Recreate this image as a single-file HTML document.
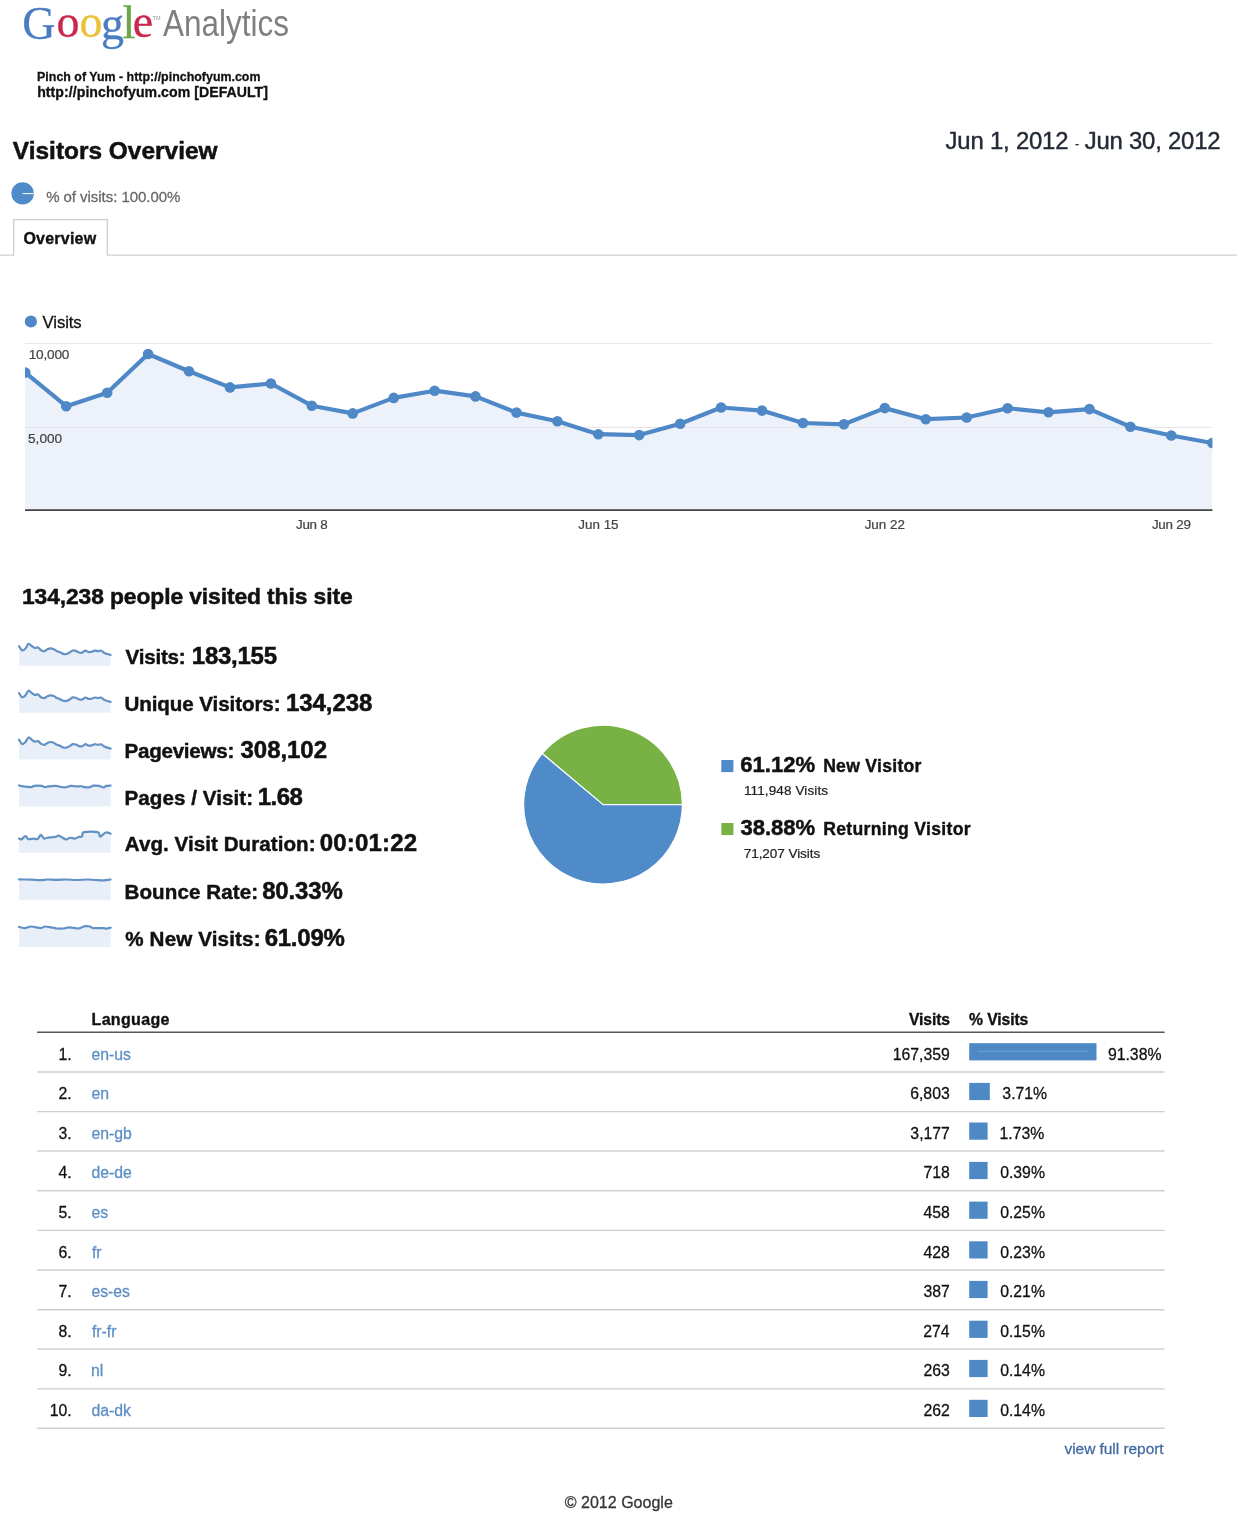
<!DOCTYPE html>
<html><head><meta charset="utf-8"><title>Google Analytics - Visitors Overview</title>
<style>
html,body{margin:0;padding:0;background:#fff;}
body{width:1239px;height:1515px;overflow:hidden;position:relative;font-family:"Liberation Sans",Arial,sans-serif;}
svg{position:absolute;left:0;top:0;display:block;will-change:transform;}
</style></head>
<body>
<svg width="1239" height="1515" viewBox="0 0 1239 1515">
<text y="37.4" font-family="Liberation Serif, serif" font-size="46"><tspan x="22.26" y="39.0" fill="#4a7cc2" stroke="#4a7cc2" stroke-width="0.3">G</tspan><tspan x="56.42" y="37.4" fill="#c9284a" stroke="#c9284a" stroke-width="0.3">o</tspan><tspan x="79.62" y="37.4" fill="#e9c23a" stroke="#e9c23a" stroke-width="0.3">o</tspan><tspan x="101.06" y="39.0" fill="#4a7cc2" stroke="#4a7cc2" stroke-width="0.3">g</tspan><tspan x="122.6" y="37.6" fill="#67a745" stroke="#67a745" stroke-width="0.3">l</tspan><tspan x="132.82" y="37.4" fill="#c9284a" stroke="#c9284a" stroke-width="0.3">e</tspan></text><text x="152.6" y="20" font-family="Liberation Sans, sans-serif" font-size="5.5" fill="#999">TM</text><text x="163" y="36.3" font-family="Liberation Sans, sans-serif" font-size="36" fill="#7f7f7f" textLength="126" lengthAdjust="spacingAndGlyphs">Analytics</text>
<circle cx="22.6" cy="193.4" r="11.2" fill="#4f8bc8"/><line x1="22.6" y1="193.6" x2="33.8" y2="193.6" stroke="#fff" stroke-width="1"/>
<path d="M0,255.2 H13.7 V219.7 H107.3 V255.2 H1237" fill="none" stroke="#cfcfcf" stroke-width="1.3"/>

<clipPath id="cc"><rect x="25.0" y="330" width="1187.4" height="180.10000000000002"/></clipPath>
<line x1="25.0" y1="343.4" x2="1212.4" y2="343.4" stroke="#e6e6e6" stroke-width="1"/>
<g clip-path="url(#cc)">
<path d="M25.0,510.1 L25.3,372.6 L66.2,406.2 L107.2,392.8 L148.1,354.0 L189.0,371.3 L230.0,387.4 L270.9,383.5 L311.8,405.7 L352.7,413.4 L393.7,397.9 L434.6,390.7 L475.5,396.4 L516.5,412.6 L557.4,421.2 L598.3,434.2 L639.2,435.1 L680.2,423.7 L721.1,407.5 L762.0,410.6 L803.0,423.0 L843.9,424.3 L884.8,408.1 L925.8,419.2 L966.7,417.5 L1007.6,408.2 L1048.5,412.3 L1089.5,409.1 L1130.4,426.8 L1171.3,435.5 L1212.3,443.0 L1212.4,510.1 Z" fill="#edf2fa"/>
<line x1="25.0" y1="427.4" x2="1212.4" y2="427.4" stroke="#e2e4e8" stroke-width="1"/>
<polyline points="25.3,372.6 66.2,406.2 107.2,392.8 148.1,354.0 189.0,371.3 230.0,387.4 270.9,383.5 311.8,405.7 352.7,413.4 393.7,397.9 434.6,390.7 475.5,396.4 516.5,412.6 557.4,421.2 598.3,434.2 639.2,435.1 680.2,423.7 721.1,407.5 762.0,410.6 803.0,423.0 843.9,424.3 884.8,408.1 925.8,419.2 966.7,417.5 1007.6,408.2 1048.5,412.3 1089.5,409.1 1130.4,426.8 1171.3,435.5 1212.3,443.0" fill="none" stroke="#4f88c6" stroke-width="4.2" stroke-linejoin="round"/>
<circle cx="25.3" cy="372.6" r="5.3" fill="#4f88c6"/><circle cx="66.2" cy="406.2" r="5.3" fill="#4f88c6"/><circle cx="107.2" cy="392.8" r="5.3" fill="#4f88c6"/><circle cx="148.1" cy="354.0" r="5.3" fill="#4f88c6"/><circle cx="189.0" cy="371.3" r="5.3" fill="#4f88c6"/><circle cx="230.0" cy="387.4" r="5.3" fill="#4f88c6"/><circle cx="270.9" cy="383.5" r="5.3" fill="#4f88c6"/><circle cx="311.8" cy="405.7" r="5.3" fill="#4f88c6"/><circle cx="352.7" cy="413.4" r="5.3" fill="#4f88c6"/><circle cx="393.7" cy="397.9" r="5.3" fill="#4f88c6"/><circle cx="434.6" cy="390.7" r="5.3" fill="#4f88c6"/><circle cx="475.5" cy="396.4" r="5.3" fill="#4f88c6"/><circle cx="516.5" cy="412.6" r="5.3" fill="#4f88c6"/><circle cx="557.4" cy="421.2" r="5.3" fill="#4f88c6"/><circle cx="598.3" cy="434.2" r="5.3" fill="#4f88c6"/><circle cx="639.2" cy="435.1" r="5.3" fill="#4f88c6"/><circle cx="680.2" cy="423.7" r="5.3" fill="#4f88c6"/><circle cx="721.1" cy="407.5" r="5.3" fill="#4f88c6"/><circle cx="762.0" cy="410.6" r="5.3" fill="#4f88c6"/><circle cx="803.0" cy="423.0" r="5.3" fill="#4f88c6"/><circle cx="843.9" cy="424.3" r="5.3" fill="#4f88c6"/><circle cx="884.8" cy="408.1" r="5.3" fill="#4f88c6"/><circle cx="925.8" cy="419.2" r="5.3" fill="#4f88c6"/><circle cx="966.7" cy="417.5" r="5.3" fill="#4f88c6"/><circle cx="1007.6" cy="408.2" r="5.3" fill="#4f88c6"/><circle cx="1048.5" cy="412.3" r="5.3" fill="#4f88c6"/><circle cx="1089.5" cy="409.1" r="5.3" fill="#4f88c6"/><circle cx="1130.4" cy="426.8" r="5.3" fill="#4f88c6"/><circle cx="1171.3" cy="435.5" r="5.3" fill="#4f88c6"/><circle cx="1212.3" cy="443.0" r="5.3" fill="#4f88c6"/>
</g>
<line x1="25.0" y1="510.1" x2="1212.4" y2="510.1" stroke="#444" stroke-width="1.6"/>
<circle cx="30.9" cy="321.5" r="6.1" fill="#4f88c6"/>

<path d="M19.00,646.14 C19.53,646.85 21.11,649.95 22.16,650.37 C23.21,650.79 24.26,649.78 25.32,648.68 C26.37,647.59 27.42,644.25 28.48,643.80 C29.53,643.35 30.58,645.28 31.63,645.98 C32.69,646.68 33.74,647.75 34.79,648.00 C35.85,648.26 36.90,647.13 37.95,647.51 C39.00,647.90 40.06,649.68 41.11,650.31 C42.16,650.93 43.22,651.44 44.27,651.28 C45.32,651.11 46.37,649.80 47.43,649.32 C48.48,648.85 49.53,648.45 50.59,648.42 C51.64,648.39 52.69,648.68 53.74,649.14 C54.80,649.60 55.85,650.65 56.90,651.17 C57.96,651.69 59.01,651.80 60.06,652.26 C61.11,652.71 62.17,653.60 63.22,653.89 C64.27,654.18 65.33,654.23 66.38,654.01 C67.43,653.79 68.49,653.15 69.54,652.57 C70.59,651.99 71.64,650.81 72.70,650.53 C73.75,650.26 74.80,650.60 75.86,650.92 C76.91,651.25 77.96,652.20 79.01,652.48 C80.07,652.77 81.12,652.96 82.17,652.65 C83.23,652.33 84.28,650.72 85.33,650.61 C86.38,650.50 87.44,651.81 88.49,652.00 C89.54,652.20 90.60,652.02 91.65,651.79 C92.70,651.56 93.75,650.73 94.81,650.62 C95.86,650.51 96.91,651.12 97.97,651.14 C99.02,651.16 100.07,650.43 101.12,650.73 C102.18,651.04 103.23,652.41 104.28,652.96 C105.34,653.52 106.39,653.72 107.44,654.06 C108.49,654.40 110.07,654.84 110.60,655.00 L110.60,665.80 L19.00,665.80 Z" fill="#e9eff8"/><path d="M19.00,646.14 C19.53,646.85 21.11,649.95 22.16,650.37 C23.21,650.79 24.26,649.78 25.32,648.68 C26.37,647.59 27.42,644.25 28.48,643.80 C29.53,643.35 30.58,645.28 31.63,645.98 C32.69,646.68 33.74,647.75 34.79,648.00 C35.85,648.26 36.90,647.13 37.95,647.51 C39.00,647.90 40.06,649.68 41.11,650.31 C42.16,650.93 43.22,651.44 44.27,651.28 C45.32,651.11 46.37,649.80 47.43,649.32 C48.48,648.85 49.53,648.45 50.59,648.42 C51.64,648.39 52.69,648.68 53.74,649.14 C54.80,649.60 55.85,650.65 56.90,651.17 C57.96,651.69 59.01,651.80 60.06,652.26 C61.11,652.71 62.17,653.60 63.22,653.89 C64.27,654.18 65.33,654.23 66.38,654.01 C67.43,653.79 68.49,653.15 69.54,652.57 C70.59,651.99 71.64,650.81 72.70,650.53 C73.75,650.26 74.80,650.60 75.86,650.92 C76.91,651.25 77.96,652.20 79.01,652.48 C80.07,652.77 81.12,652.96 82.17,652.65 C83.23,652.33 84.28,650.72 85.33,650.61 C86.38,650.50 87.44,651.81 88.49,652.00 C89.54,652.20 90.60,652.02 91.65,651.79 C92.70,651.56 93.75,650.73 94.81,650.62 C95.86,650.51 96.91,651.12 97.97,651.14 C99.02,651.16 100.07,650.43 101.12,650.73 C102.18,651.04 103.23,652.41 104.28,652.96 C105.34,653.52 106.39,653.72 107.44,654.06 C108.49,654.40 110.07,654.84 110.60,655.00" fill="none" stroke="#6291c4" stroke-width="2.2" stroke-linejoin="round" stroke-linecap="round"/><path d="M19.00,693.04 C19.53,693.75 21.11,696.85 22.16,697.27 C23.21,697.69 24.26,696.68 25.32,695.58 C26.37,694.49 27.42,691.15 28.48,690.70 C29.53,690.25 30.58,692.18 31.63,692.88 C32.69,693.58 33.74,694.65 34.79,694.90 C35.85,695.16 36.90,694.03 37.95,694.41 C39.00,694.80 40.06,696.58 41.11,697.21 C42.16,697.83 43.22,698.34 44.27,698.18 C45.32,698.01 46.37,696.70 47.43,696.22 C48.48,695.75 49.53,695.35 50.59,695.32 C51.64,695.29 52.69,695.58 53.74,696.04 C54.80,696.50 55.85,697.55 56.90,698.07 C57.96,698.59 59.01,698.70 60.06,699.16 C61.11,699.61 62.17,700.50 63.22,700.79 C64.27,701.08 65.33,701.13 66.38,700.91 C67.43,700.69 68.49,700.05 69.54,699.47 C70.59,698.89 71.64,697.71 72.70,697.43 C73.75,697.16 74.80,697.50 75.86,697.82 C76.91,698.15 77.96,699.10 79.01,699.38 C80.07,699.67 81.12,699.86 82.17,699.55 C83.23,699.23 84.28,697.62 85.33,697.51 C86.38,697.40 87.44,698.71 88.49,698.90 C89.54,699.10 90.60,698.92 91.65,698.69 C92.70,698.46 93.75,697.63 94.81,697.52 C95.86,697.41 96.91,698.02 97.97,698.04 C99.02,698.06 100.07,697.33 101.12,697.63 C102.18,697.94 103.23,699.31 104.28,699.86 C105.34,700.42 106.39,700.62 107.44,700.96 C108.49,701.30 110.07,701.74 110.60,701.90 L110.60,712.70 L19.00,712.70 Z" fill="#e9eff8"/><path d="M19.00,693.04 C19.53,693.75 21.11,696.85 22.16,697.27 C23.21,697.69 24.26,696.68 25.32,695.58 C26.37,694.49 27.42,691.15 28.48,690.70 C29.53,690.25 30.58,692.18 31.63,692.88 C32.69,693.58 33.74,694.65 34.79,694.90 C35.85,695.16 36.90,694.03 37.95,694.41 C39.00,694.80 40.06,696.58 41.11,697.21 C42.16,697.83 43.22,698.34 44.27,698.18 C45.32,698.01 46.37,696.70 47.43,696.22 C48.48,695.75 49.53,695.35 50.59,695.32 C51.64,695.29 52.69,695.58 53.74,696.04 C54.80,696.50 55.85,697.55 56.90,698.07 C57.96,698.59 59.01,698.70 60.06,699.16 C61.11,699.61 62.17,700.50 63.22,700.79 C64.27,701.08 65.33,701.13 66.38,700.91 C67.43,700.69 68.49,700.05 69.54,699.47 C70.59,698.89 71.64,697.71 72.70,697.43 C73.75,697.16 74.80,697.50 75.86,697.82 C76.91,698.15 77.96,699.10 79.01,699.38 C80.07,699.67 81.12,699.86 82.17,699.55 C83.23,699.23 84.28,697.62 85.33,697.51 C86.38,697.40 87.44,698.71 88.49,698.90 C89.54,699.10 90.60,698.92 91.65,698.69 C92.70,698.46 93.75,697.63 94.81,697.52 C95.86,697.41 96.91,698.02 97.97,698.04 C99.02,698.06 100.07,697.33 101.12,697.63 C102.18,697.94 103.23,699.31 104.28,699.86 C105.34,700.42 106.39,700.62 107.44,700.96 C108.49,701.30 110.07,701.74 110.60,701.90" fill="none" stroke="#6291c4" stroke-width="2.2" stroke-linejoin="round" stroke-linecap="round"/><path d="M19.00,739.74 C19.53,740.45 21.11,743.55 22.16,743.97 C23.21,744.39 24.26,743.38 25.32,742.28 C26.37,741.19 27.42,737.85 28.48,737.40 C29.53,736.95 30.58,738.88 31.63,739.58 C32.69,740.28 33.74,741.35 34.79,741.60 C35.85,741.86 36.90,740.73 37.95,741.11 C39.00,741.50 40.06,743.28 41.11,743.91 C42.16,744.53 43.22,745.04 44.27,744.88 C45.32,744.71 46.37,743.40 47.43,742.92 C48.48,742.45 49.53,742.05 50.59,742.02 C51.64,741.99 52.69,742.28 53.74,742.74 C54.80,743.20 55.85,744.25 56.90,744.77 C57.96,745.29 59.01,745.40 60.06,745.86 C61.11,746.31 62.17,747.20 63.22,747.49 C64.27,747.78 65.33,747.83 66.38,747.61 C67.43,747.39 68.49,746.75 69.54,746.17 C70.59,745.59 71.64,744.41 72.70,744.13 C73.75,743.86 74.80,744.20 75.86,744.52 C76.91,744.85 77.96,745.80 79.01,746.08 C80.07,746.37 81.12,746.56 82.17,746.25 C83.23,745.93 84.28,744.32 85.33,744.21 C86.38,744.10 87.44,745.41 88.49,745.60 C89.54,745.80 90.60,745.62 91.65,745.39 C92.70,745.16 93.75,744.33 94.81,744.22 C95.86,744.11 96.91,744.72 97.97,744.74 C99.02,744.76 100.07,744.03 101.12,744.33 C102.18,744.64 103.23,746.01 104.28,746.56 C105.34,747.12 106.39,747.32 107.44,747.66 C108.49,748.00 110.07,748.44 110.60,748.60 L110.60,759.40 L19.00,759.40 Z" fill="#e9eff8"/><path d="M19.00,739.74 C19.53,740.45 21.11,743.55 22.16,743.97 C23.21,744.39 24.26,743.38 25.32,742.28 C26.37,741.19 27.42,737.85 28.48,737.40 C29.53,736.95 30.58,738.88 31.63,739.58 C32.69,740.28 33.74,741.35 34.79,741.60 C35.85,741.86 36.90,740.73 37.95,741.11 C39.00,741.50 40.06,743.28 41.11,743.91 C42.16,744.53 43.22,745.04 44.27,744.88 C45.32,744.71 46.37,743.40 47.43,742.92 C48.48,742.45 49.53,742.05 50.59,742.02 C51.64,741.99 52.69,742.28 53.74,742.74 C54.80,743.20 55.85,744.25 56.90,744.77 C57.96,745.29 59.01,745.40 60.06,745.86 C61.11,746.31 62.17,747.20 63.22,747.49 C64.27,747.78 65.33,747.83 66.38,747.61 C67.43,747.39 68.49,746.75 69.54,746.17 C70.59,745.59 71.64,744.41 72.70,744.13 C73.75,743.86 74.80,744.20 75.86,744.52 C76.91,744.85 77.96,745.80 79.01,746.08 C80.07,746.37 81.12,746.56 82.17,746.25 C83.23,745.93 84.28,744.32 85.33,744.21 C86.38,744.10 87.44,745.41 88.49,745.60 C89.54,745.80 90.60,745.62 91.65,745.39 C92.70,745.16 93.75,744.33 94.81,744.22 C95.86,744.11 96.91,744.72 97.97,744.74 C99.02,744.76 100.07,744.03 101.12,744.33 C102.18,744.64 103.23,746.01 104.28,746.56 C105.34,747.12 106.39,747.32 107.44,747.66 C108.49,748.00 110.07,748.44 110.60,748.60" fill="none" stroke="#6291c4" stroke-width="2.2" stroke-linejoin="round" stroke-linecap="round"/><path d="M19.04,785.49 C19.98,785.69 22.67,786.43 24.69,786.70 C26.70,786.97 29.53,787.24 31.14,787.11 C32.76,786.97 32.62,786.10 34.37,785.90 C36.12,785.69 39.89,785.69 41.63,785.90 C43.38,786.10 43.65,787.04 44.86,787.11 C46.07,787.17 47.02,786.50 48.90,786.30 C50.78,786.10 54.41,785.83 56.16,785.90 C57.91,785.96 57.78,786.47 59.39,786.70 C61.00,786.93 63.96,787.40 65.85,787.27 C67.73,787.13 68.94,786.06 70.69,785.90 C72.44,785.73 74.46,786.23 76.34,786.30 C78.22,786.37 80.64,786.16 81.99,786.30 C83.33,786.43 83.07,786.97 84.41,787.11 C85.76,787.24 88.58,787.35 90.06,787.11 C91.54,786.86 91.81,785.86 93.29,785.65 C94.77,785.45 97.19,785.59 98.94,785.90 C100.69,786.21 102.57,787.51 103.78,787.51 C104.99,787.51 105.06,786.23 106.20,785.90 C107.35,785.56 109.90,785.56 110.64,785.49 L110.64,806.50 L19.04,806.50 Z" fill="#e9eff8"/><path d="M19.04,785.49 C19.98,785.69 22.67,786.43 24.69,786.70 C26.70,786.97 29.53,787.24 31.14,787.11 C32.76,786.97 32.62,786.10 34.37,785.90 C36.12,785.69 39.89,785.69 41.63,785.90 C43.38,786.10 43.65,787.04 44.86,787.11 C46.07,787.17 47.02,786.50 48.90,786.30 C50.78,786.10 54.41,785.83 56.16,785.90 C57.91,785.96 57.78,786.47 59.39,786.70 C61.00,786.93 63.96,787.40 65.85,787.27 C67.73,787.13 68.94,786.06 70.69,785.90 C72.44,785.73 74.46,786.23 76.34,786.30 C78.22,786.37 80.64,786.16 81.99,786.30 C83.33,786.43 83.07,786.97 84.41,787.11 C85.76,787.24 88.58,787.35 90.06,787.11 C91.54,786.86 91.81,785.86 93.29,785.65 C94.77,785.45 97.19,785.59 98.94,785.90 C100.69,786.21 102.57,787.51 103.78,787.51 C104.99,787.51 105.06,786.23 106.20,785.90 C107.35,785.56 109.90,785.56 110.64,785.49" fill="none" stroke="#6291c4" stroke-width="2.2" stroke-linejoin="round" stroke-linecap="round"/><path d="M19.04,838.55 C19.44,838.68 20.38,839.76 21.46,839.35 C22.53,838.95 24.35,836.15 25.49,836.12 C26.64,836.10 26.97,838.79 28.32,839.19 C29.66,839.59 32.02,838.59 33.56,838.55 C35.11,838.51 36.39,839.55 37.60,838.95 C38.81,838.34 39.75,834.98 40.83,834.91 C41.90,834.85 42.98,838.07 44.06,838.55 C45.13,839.02 45.40,838.01 47.28,837.74 C49.17,837.47 53.40,837.27 55.36,836.93 C57.31,836.60 57.24,835.32 58.99,835.72 C60.74,836.12 64.03,839.02 65.85,839.35 C67.66,839.69 68.40,837.87 69.88,837.74 C71.36,837.60 73.25,838.68 74.73,838.55 C76.21,838.41 77.55,837.27 78.76,836.93 C79.97,836.60 81.12,837.33 81.99,836.53 C82.86,835.72 81.38,832.83 84.01,832.09 C86.63,831.35 95.04,831.35 97.73,832.09 C100.42,832.83 98.80,836.46 100.15,836.53 C101.49,836.60 104.05,832.96 105.80,832.49 C107.55,832.02 109.83,833.50 110.64,833.70 L110.64,852.70 L19.04,852.70 Z" fill="#e9eff8"/><path d="M19.04,838.55 C19.44,838.68 20.38,839.76 21.46,839.35 C22.53,838.95 24.35,836.15 25.49,836.12 C26.64,836.10 26.97,838.79 28.32,839.19 C29.66,839.59 32.02,838.59 33.56,838.55 C35.11,838.51 36.39,839.55 37.60,838.95 C38.81,838.34 39.75,834.98 40.83,834.91 C41.90,834.85 42.98,838.07 44.06,838.55 C45.13,839.02 45.40,838.01 47.28,837.74 C49.17,837.47 53.40,837.27 55.36,836.93 C57.31,836.60 57.24,835.32 58.99,835.72 C60.74,836.12 64.03,839.02 65.85,839.35 C67.66,839.69 68.40,837.87 69.88,837.74 C71.36,837.60 73.25,838.68 74.73,838.55 C76.21,838.41 77.55,837.27 78.76,836.93 C79.97,836.60 81.12,837.33 81.99,836.53 C82.86,835.72 81.38,832.83 84.01,832.09 C86.63,831.35 95.04,831.35 97.73,832.09 C100.42,832.83 98.80,836.46 100.15,836.53 C101.49,836.60 104.05,832.96 105.80,832.49 C107.55,832.02 109.83,833.50 110.64,833.70" fill="none" stroke="#6291c4" stroke-width="2.2" stroke-linejoin="round" stroke-linecap="round"/><path d="M19.04,879.33 C21.05,879.38 27.51,879.52 31.14,879.65 C34.77,879.79 38.14,880.16 40.83,880.14 C43.52,880.11 44.59,879.55 47.28,879.49 C49.97,879.44 53.74,879.82 56.97,879.82 C60.20,879.82 63.43,879.47 66.65,879.49 C69.88,879.52 72.84,879.98 76.34,879.98 C79.84,879.98 84.41,879.49 87.64,879.49 C90.87,879.49 93.02,879.84 95.71,879.98 C98.40,880.11 101.29,880.38 103.78,880.30 C106.27,880.22 109.50,879.63 110.64,879.49 L110.64,900.20 L19.04,900.20 Z" fill="#e9eff8"/><path d="M19.04,879.33 C21.05,879.38 27.51,879.52 31.14,879.65 C34.77,879.79 38.14,880.16 40.83,880.14 C43.52,880.11 44.59,879.55 47.28,879.49 C49.97,879.44 53.74,879.82 56.97,879.82 C60.20,879.82 63.43,879.47 66.65,879.49 C69.88,879.52 72.84,879.98 76.34,879.98 C79.84,879.98 84.41,879.49 87.64,879.49 C90.87,879.49 93.02,879.84 95.71,879.98 C98.40,880.11 101.29,880.38 103.78,880.30 C106.27,880.22 109.50,879.63 110.64,879.49" fill="none" stroke="#6291c4" stroke-width="2.2" stroke-linejoin="round" stroke-linecap="round"/><path d="M19.04,926.90 C20.11,927.10 23.47,928.17 25.49,928.11 C27.51,928.04 28.59,926.49 31.14,926.49 C33.70,926.49 38.54,928.11 40.83,928.11 C43.11,928.11 42.85,926.56 44.86,926.49 C46.88,926.43 50.92,927.37 52.93,927.70 C54.95,928.04 55.22,928.38 56.97,928.51 C58.72,928.64 61.41,928.71 63.43,928.51 C65.44,928.31 66.65,927.30 69.08,927.30 C71.50,927.30 75.80,928.51 77.95,928.51 C80.11,928.51 80.78,927.70 81.99,927.30 C83.20,926.90 83.87,926.22 85.22,926.09 C86.56,925.95 88.72,926.16 90.06,926.49 C91.41,926.83 91.00,927.84 93.29,928.11 C95.58,928.38 101.63,928.00 103.78,928.11 C105.93,928.21 105.06,928.82 106.20,928.75 C107.35,928.68 109.90,927.88 110.64,927.70 L110.64,947.00 L19.04,947.00 Z" fill="#e9eff8"/><path d="M19.04,926.90 C20.11,927.10 23.47,928.17 25.49,928.11 C27.51,928.04 28.59,926.49 31.14,926.49 C33.70,926.49 38.54,928.11 40.83,928.11 C43.11,928.11 42.85,926.56 44.86,926.49 C46.88,926.43 50.92,927.37 52.93,927.70 C54.95,928.04 55.22,928.38 56.97,928.51 C58.72,928.64 61.41,928.71 63.43,928.51 C65.44,928.31 66.65,927.30 69.08,927.30 C71.50,927.30 75.80,928.51 77.95,928.51 C80.11,928.51 80.78,927.70 81.99,927.30 C83.20,926.90 83.87,926.22 85.22,926.09 C86.56,925.95 88.72,926.16 90.06,926.49 C91.41,926.83 91.00,927.84 93.29,928.11 C95.58,928.38 101.63,928.00 103.78,928.11 C105.93,928.21 105.06,928.82 106.20,928.75 C107.35,928.68 109.90,927.88 110.64,927.70" fill="none" stroke="#6291c4" stroke-width="2.2" stroke-linejoin="round" stroke-linecap="round"/>

<path d="M603.0,804.6 L682.4,804.6 A79.4,79.4 0 0 0 542.18,753.56 Z" fill="#78b244" stroke="#fff" stroke-width="1.2" stroke-linejoin="round"/>
<path d="M603.0,804.6 L542.18,753.56 A79.4,79.4 0 1 0 682.4,804.6 Z" fill="#4f8bc8" stroke="#fff" stroke-width="1.2" stroke-linejoin="round"/>
<rect x="721.3" y="760" width="12.1" height="12.1" fill="#4f8bc8"/>
<rect x="721.3" y="823" width="12.1" height="12.1" fill="#78b244"/>

<line x1="37.1" y1="1032.3" x2="1164.6" y2="1032.3" stroke="#555" stroke-width="1.4"/><line x1="37.1" y1="1072.0" x2="1164.6" y2="1072.0" stroke="#cfcfcf" stroke-width="1.4"/><line x1="37.1" y1="1111.6" x2="1164.6" y2="1111.6" stroke="#cfcfcf" stroke-width="1.4"/><line x1="37.1" y1="1151.0" x2="1164.6" y2="1151.0" stroke="#cfcfcf" stroke-width="1.4"/><line x1="37.1" y1="1190.7" x2="1164.6" y2="1190.7" stroke="#cfcfcf" stroke-width="1.4"/><line x1="37.1" y1="1230.4" x2="1164.6" y2="1230.4" stroke="#cfcfcf" stroke-width="1.4"/><line x1="37.1" y1="1270.0" x2="1164.6" y2="1270.0" stroke="#cfcfcf" stroke-width="1.4"/><line x1="37.1" y1="1309.8" x2="1164.6" y2="1309.8" stroke="#cfcfcf" stroke-width="1.4"/><line x1="37.1" y1="1349.0" x2="1164.6" y2="1349.0" stroke="#cfcfcf" stroke-width="1.4"/><line x1="37.1" y1="1388.9" x2="1164.6" y2="1388.9" stroke="#cfcfcf" stroke-width="1.4"/><line x1="37.1" y1="1428.3" x2="1164.6" y2="1428.3" stroke="#cfcfcf" stroke-width="1.4"/><rect x="969.2" y="1043.2" width="127.3" height="17.2" fill="#4e89c6"/><rect x="969.2" y="1082.9" width="20.6" height="17.2" fill="#4e89c6"/><rect x="969.2" y="1122.5" width="18.4" height="17.2" fill="#4e89c6"/><rect x="969.2" y="1161.9" width="18.4" height="17.2" fill="#4e89c6"/><rect x="969.2" y="1201.6" width="18.4" height="17.2" fill="#4e89c6"/><rect x="969.2" y="1241.3" width="18.4" height="17.2" fill="#4e89c6"/><rect x="969.2" y="1280.9" width="18.4" height="17.2" fill="#4e89c6"/><rect x="969.2" y="1320.7" width="18.4" height="17.2" fill="#4e89c6"/><rect x="969.2" y="1359.9" width="18.4" height="17.2" fill="#4e89c6"/><rect x="969.2" y="1399.8" width="18.4" height="17.2" fill="#4e89c6"/><line x1="977.9" y1="1051.3" x2="1088.1" y2="1051.3" stroke="#7ea8d8" stroke-width="0.7"/>
<text x="37.09" y="80.70" font-family="Liberation Sans, sans-serif" font-size="12.4" font-weight="bold" letter-spacing="0.017" fill="#111" stroke="#111" stroke-width="0.273">Pinch of Yum - http://pinchofyum.com</text>
<text x="37.21" y="97.40" font-family="Liberation Sans, sans-serif" font-size="14.1" font-weight="bold" letter-spacing="0.055" fill="#111" stroke="#111" stroke-width="0.31">http://pinchofyum.com [DEFAULT]</text>
<text x="12.87" y="158.60" font-family="Liberation Sans, sans-serif" font-size="24.4" font-weight="bold" letter-spacing="0.023" fill="#111" stroke="#111" stroke-width="0.537">Visitors Overview</text>
<text x="945.56" y="148.90" font-family="Liberation Sans, sans-serif" font-size="23.9" letter-spacing="-0.198" fill="#232a36" stroke="#232a36" stroke-width="0.406">Jun 1, 2012</text>
<text x="1074.91" y="148.00" font-family="Liberation Sans, sans-serif" font-size="12.5" fill="#232a36" stroke="#232a36" stroke-width="0.213">-</text>
<text x="1084.66" y="148.90" font-family="Liberation Sans, sans-serif" font-size="23.9" letter-spacing="-0.206" fill="#232a36" stroke="#232a36" stroke-width="0.406">Jun 30, 2012</text>
<text x="46.18" y="201.60" font-family="Liberation Sans, sans-serif" font-size="15.0" letter-spacing="-0.049" fill="#666" stroke="#666" stroke-width="0.255">% of visits: 100.00%</text>
<text x="23.44" y="244.10" font-family="Liberation Sans, sans-serif" font-size="16.0" font-weight="bold" letter-spacing="0.228" fill="#111" stroke="#111" stroke-width="0.352">Overview</text>
<text x="42.54" y="328.00" font-family="Liberation Sans, sans-serif" font-size="16.7" letter-spacing="-0.076" fill="#111" stroke="#111" stroke-width="0.284">Visits</text>
<text x="28.66" y="358.70" font-family="Liberation Sans, sans-serif" font-size="13.6" letter-spacing="-0.177" fill="#444" stroke="#444" stroke-width="0.231">10,000</text>
<text x="28.07" y="443.20" font-family="Liberation Sans, sans-serif" font-size="13.6" letter-spacing="-0.007" fill="#444" stroke="#444" stroke-width="0.231">5,000</text>
<text x="578.36" y="528.70" font-family="Liberation Sans, sans-serif" font-size="13.4" fill="#444" stroke="#444" stroke-width="0.228">Jun 15</text>
<text x="864.63" y="528.70" font-family="Liberation Sans, sans-serif" font-size="13.4" fill="#444" stroke="#444" stroke-width="0.228">Jun 22</text>
<text x="295.98" y="528.70" font-family="Liberation Sans, sans-serif" font-size="13.4" letter-spacing="-0.272" fill="#444" stroke="#444" stroke-width="0.228">Jun 8</text>
<text x="1151.88" y="528.70" font-family="Liberation Sans, sans-serif" font-size="13.4" letter-spacing="-0.242" fill="#444" stroke="#444" stroke-width="0.228">Jun 29</text>
<text x="21.98" y="604.40" font-family="Liberation Sans, sans-serif" font-size="22.8" font-weight="bold" letter-spacing="-0.085" fill="#111" stroke="#111" stroke-width="0.502">134,238 people visited this site</text>
<text x="125.53" y="664.40" font-family="Liberation Sans, sans-serif" font-size="20.6" font-weight="bold" letter-spacing="-0.214" fill="#111" stroke="#111" stroke-width="0.453">Visits:</text>
<text x="191.82" y="664.40" font-family="Liberation Sans, sans-serif" font-size="24.0" font-weight="bold" letter-spacing="-0.252" fill="#111" stroke="#111" stroke-width="0.528">183,155</text>
<text x="124.49" y="711.30" font-family="Liberation Sans, sans-serif" font-size="20.6" font-weight="bold" letter-spacing="-0.099" fill="#111" stroke="#111" stroke-width="0.453">Unique Visitors:</text>
<text x="285.92" y="711.30" font-family="Liberation Sans, sans-serif" font-size="24.0" font-weight="bold" letter-spacing="-0.052" fill="#111" stroke="#111" stroke-width="0.528">134,238</text>
<text x="124.49" y="758.00" font-family="Liberation Sans, sans-serif" font-size="20.6" font-weight="bold" letter-spacing="-0.268" fill="#111" stroke="#111" stroke-width="0.453">Pageviews:</text>
<text x="240.58" y="758.00" font-family="Liberation Sans, sans-serif" font-size="24.0" font-weight="bold" letter-spacing="-0.056" fill="#111" stroke="#111" stroke-width="0.528">308,102</text>
<text x="124.49" y="805.10" font-family="Liberation Sans, sans-serif" font-size="20.6" font-weight="bold" letter-spacing="0.057" fill="#111" stroke="#111" stroke-width="0.453">Pages / Visit:</text>
<text x="257.72" y="805.10" font-family="Liberation Sans, sans-serif" font-size="24.0" font-weight="bold" letter-spacing="-0.490" fill="#111" stroke="#111" stroke-width="0.528">1.68</text>
<text x="124.81" y="851.30" font-family="Liberation Sans, sans-serif" font-size="20.6" font-weight="bold" letter-spacing="0.041" fill="#111" stroke="#111" stroke-width="0.453">Avg. Visit Duration:</text>
<text x="319.74" y="851.30" font-family="Liberation Sans, sans-serif" font-size="24.0" font-weight="bold" letter-spacing="0.184" fill="#111" stroke="#111" stroke-width="0.528">00:01:22</text>
<text x="124.49" y="898.80" font-family="Liberation Sans, sans-serif" font-size="20.6" font-weight="bold" letter-spacing="0.075" fill="#111" stroke="#111" stroke-width="0.453">Bounce Rate:</text>
<text x="262.14" y="898.80" font-family="Liberation Sans, sans-serif" font-size="24.0" font-weight="bold" letter-spacing="-0.129" fill="#111" stroke="#111" stroke-width="0.528">80.33%</text>
<text x="125.31" y="945.60" font-family="Liberation Sans, sans-serif" font-size="20.6" font-weight="bold" letter-spacing="0.142" fill="#111" stroke="#111" stroke-width="0.453">% New Visits:</text>
<text x="264.64" y="945.60" font-family="Liberation Sans, sans-serif" font-size="24.0" font-weight="bold" letter-spacing="-0.229" fill="#111" stroke="#111" stroke-width="0.528">61.09%</text>
<text x="740.28" y="772.40" font-family="Liberation Sans, sans-serif" font-size="22.1" font-weight="bold" letter-spacing="-0.011" fill="#111" stroke="#111" stroke-width="0.486">61.12%</text>
<text x="823.14" y="772.40" font-family="Liberation Sans, sans-serif" font-size="17.6" font-weight="bold" letter-spacing="0.280" fill="#111" stroke="#111" stroke-width="0.387">New Visitor</text>
<text x="743.97" y="794.60" font-family="Liberation Sans, sans-serif" font-size="13.5" letter-spacing="0.120" fill="#222" stroke="#222" stroke-width="0.23">111,948 Visits</text>
<text x="740.50" y="835.30" font-family="Liberation Sans, sans-serif" font-size="22.1" font-weight="bold" letter-spacing="-0.055" fill="#111" stroke="#111" stroke-width="0.486">38.88%</text>
<text x="823.14" y="835.30" font-family="Liberation Sans, sans-serif" font-size="17.6" font-weight="bold" letter-spacing="0.318" fill="#111" stroke="#111" stroke-width="0.387">Returning Visitor</text>
<text x="743.74" y="857.60" font-family="Liberation Sans, sans-serif" font-size="13.5" letter-spacing="-0.050" fill="#222" stroke="#222" stroke-width="0.23">71,207 Visits</text>
<text x="91.52" y="1024.60" font-family="Liberation Sans, sans-serif" font-size="16.0" font-weight="bold" letter-spacing="0.338" fill="#111" stroke="#111" stroke-width="0.352">Language</text>
<text x="908.97" y="1024.60" font-family="Liberation Sans, sans-serif" font-size="15.7" font-weight="bold" letter-spacing="-0.096" fill="#111" stroke="#111" stroke-width="0.345">Visits</text>
<text x="969.06" y="1024.60" font-family="Liberation Sans, sans-serif" font-size="15.7" font-weight="bold" letter-spacing="-0.084" fill="#111" stroke="#111" stroke-width="0.345">% Visits</text>
<text x="58.48" y="1059.60" font-family="Liberation Sans, sans-serif" font-size="15.8" fill="#111" stroke="#111" stroke-width="0.269">1.</text>
<text x="91.40" y="1059.60" font-family="Liberation Sans, sans-serif" font-size="15.8" fill="#5b8ec4" stroke="#5b8ec4" stroke-width="0.269">en-us</text>
<text x="892.78" y="1059.60" font-family="Liberation Sans, sans-serif" font-size="15.8" fill="#111" stroke="#111" stroke-width="0.269">167,359</text>
<text x="58.48" y="1099.30" font-family="Liberation Sans, sans-serif" font-size="15.8" fill="#111" stroke="#111" stroke-width="0.269">2.</text>
<text x="91.40" y="1099.30" font-family="Liberation Sans, sans-serif" font-size="15.8" fill="#5b8ec4" stroke="#5b8ec4" stroke-width="0.269">en</text>
<text x="910.20" y="1099.30" font-family="Liberation Sans, sans-serif" font-size="15.8" fill="#111" stroke="#111" stroke-width="0.269">6,803</text>
<text x="58.48" y="1138.90" font-family="Liberation Sans, sans-serif" font-size="15.8" fill="#111" stroke="#111" stroke-width="0.269">3.</text>
<text x="91.40" y="1138.90" font-family="Liberation Sans, sans-serif" font-size="15.8" fill="#5b8ec4" stroke="#5b8ec4" stroke-width="0.269">en-gb</text>
<text x="910.36" y="1138.90" font-family="Liberation Sans, sans-serif" font-size="15.8" fill="#111" stroke="#111" stroke-width="0.269">3,177</text>
<text x="58.48" y="1178.30" font-family="Liberation Sans, sans-serif" font-size="15.8" fill="#111" stroke="#111" stroke-width="0.269">4.</text>
<text x="91.40" y="1178.30" font-family="Liberation Sans, sans-serif" font-size="15.8" fill="#5b8ec4" stroke="#5b8ec4" stroke-width="0.269">de-de</text>
<text x="923.38" y="1178.30" font-family="Liberation Sans, sans-serif" font-size="15.8" fill="#111" stroke="#111" stroke-width="0.269">718</text>
<text x="58.48" y="1218.00" font-family="Liberation Sans, sans-serif" font-size="15.8" fill="#111" stroke="#111" stroke-width="0.269">5.</text>
<text x="91.40" y="1218.00" font-family="Liberation Sans, sans-serif" font-size="15.8" fill="#5b8ec4" stroke="#5b8ec4" stroke-width="0.269">es</text>
<text x="923.38" y="1218.00" font-family="Liberation Sans, sans-serif" font-size="15.8" fill="#111" stroke="#111" stroke-width="0.269">458</text>
<text x="58.48" y="1257.70" font-family="Liberation Sans, sans-serif" font-size="15.8" fill="#111" stroke="#111" stroke-width="0.269">6.</text>
<text x="91.88" y="1257.70" font-family="Liberation Sans, sans-serif" font-size="15.8" fill="#5b8ec4" stroke="#5b8ec4" stroke-width="0.269">fr</text>
<text x="923.38" y="1257.70" font-family="Liberation Sans, sans-serif" font-size="15.8" fill="#111" stroke="#111" stroke-width="0.269">428</text>
<text x="58.48" y="1297.30" font-family="Liberation Sans, sans-serif" font-size="15.8" fill="#111" stroke="#111" stroke-width="0.269">7.</text>
<text x="91.40" y="1297.30" font-family="Liberation Sans, sans-serif" font-size="15.8" fill="#5b8ec4" stroke="#5b8ec4" stroke-width="0.269">es-es</text>
<text x="923.53" y="1297.30" font-family="Liberation Sans, sans-serif" font-size="15.8" fill="#111" stroke="#111" stroke-width="0.269">387</text>
<text x="58.48" y="1337.10" font-family="Liberation Sans, sans-serif" font-size="15.8" fill="#111" stroke="#111" stroke-width="0.269">8.</text>
<text x="91.88" y="1337.10" font-family="Liberation Sans, sans-serif" font-size="15.8" fill="#5b8ec4" stroke="#5b8ec4" stroke-width="0.269">fr-fr</text>
<text x="923.22" y="1337.10" font-family="Liberation Sans, sans-serif" font-size="15.8" fill="#111" stroke="#111" stroke-width="0.269">274</text>
<text x="58.48" y="1376.30" font-family="Liberation Sans, sans-serif" font-size="15.8" fill="#111" stroke="#111" stroke-width="0.269">9.</text>
<text x="91.09" y="1376.30" font-family="Liberation Sans, sans-serif" font-size="15.8" fill="#5b8ec4" stroke="#5b8ec4" stroke-width="0.269">nl</text>
<text x="923.38" y="1376.30" font-family="Liberation Sans, sans-serif" font-size="15.8" fill="#111" stroke="#111" stroke-width="0.269">263</text>
<text x="49.69" y="1416.20" font-family="Liberation Sans, sans-serif" font-size="15.8" fill="#111" stroke="#111" stroke-width="0.269">10.</text>
<text x="91.40" y="1416.20" font-family="Liberation Sans, sans-serif" font-size="15.8" fill="#5b8ec4" stroke="#5b8ec4" stroke-width="0.269">da-dk</text>
<text x="923.53" y="1416.20" font-family="Liberation Sans, sans-serif" font-size="15.8" fill="#111" stroke="#111" stroke-width="0.269">262</text>
<text x="1064.53" y="1454.40" font-family="Liberation Sans, sans-serif" font-size="15.5" letter-spacing="-0.055" fill="#41689f" stroke="#41689f" stroke-width="0.264">view full report</text>
<text x="564.78" y="1508.40" font-family="Liberation Sans, sans-serif" font-size="16.0" letter-spacing="0.017" fill="#333" stroke="#333" stroke-width="0.272">© 2012 Google</text>
<text x="1107.90" y="1059.60" font-family="Liberation Sans, sans-serif" font-size="15.8" fill="#111" stroke="#111" stroke-width="0.269">91.38%</text>
<text x="1002.36" y="1099.30" font-family="Liberation Sans, sans-serif" font-size="15.8" fill="#111" stroke="#111" stroke-width="0.269">3.71%</text>
<text x="999.53" y="1138.90" font-family="Liberation Sans, sans-serif" font-size="15.8" fill="#111" stroke="#111" stroke-width="0.269">1.73%</text>
<text x="1000.16" y="1178.30" font-family="Liberation Sans, sans-serif" font-size="15.8" fill="#111" stroke="#111" stroke-width="0.269">0.39%</text>
<text x="1000.16" y="1218.00" font-family="Liberation Sans, sans-serif" font-size="15.8" fill="#111" stroke="#111" stroke-width="0.269">0.25%</text>
<text x="1000.16" y="1257.70" font-family="Liberation Sans, sans-serif" font-size="15.8" fill="#111" stroke="#111" stroke-width="0.269">0.23%</text>
<text x="1000.16" y="1297.30" font-family="Liberation Sans, sans-serif" font-size="15.8" fill="#111" stroke="#111" stroke-width="0.269">0.21%</text>
<text x="1000.16" y="1337.10" font-family="Liberation Sans, sans-serif" font-size="15.8" fill="#111" stroke="#111" stroke-width="0.269">0.15%</text>
<text x="1000.16" y="1376.30" font-family="Liberation Sans, sans-serif" font-size="15.8" fill="#111" stroke="#111" stroke-width="0.269">0.14%</text>
<text x="1000.16" y="1416.20" font-family="Liberation Sans, sans-serif" font-size="15.8" fill="#111" stroke="#111" stroke-width="0.269">0.14%</text>
</svg>
</body></html>
